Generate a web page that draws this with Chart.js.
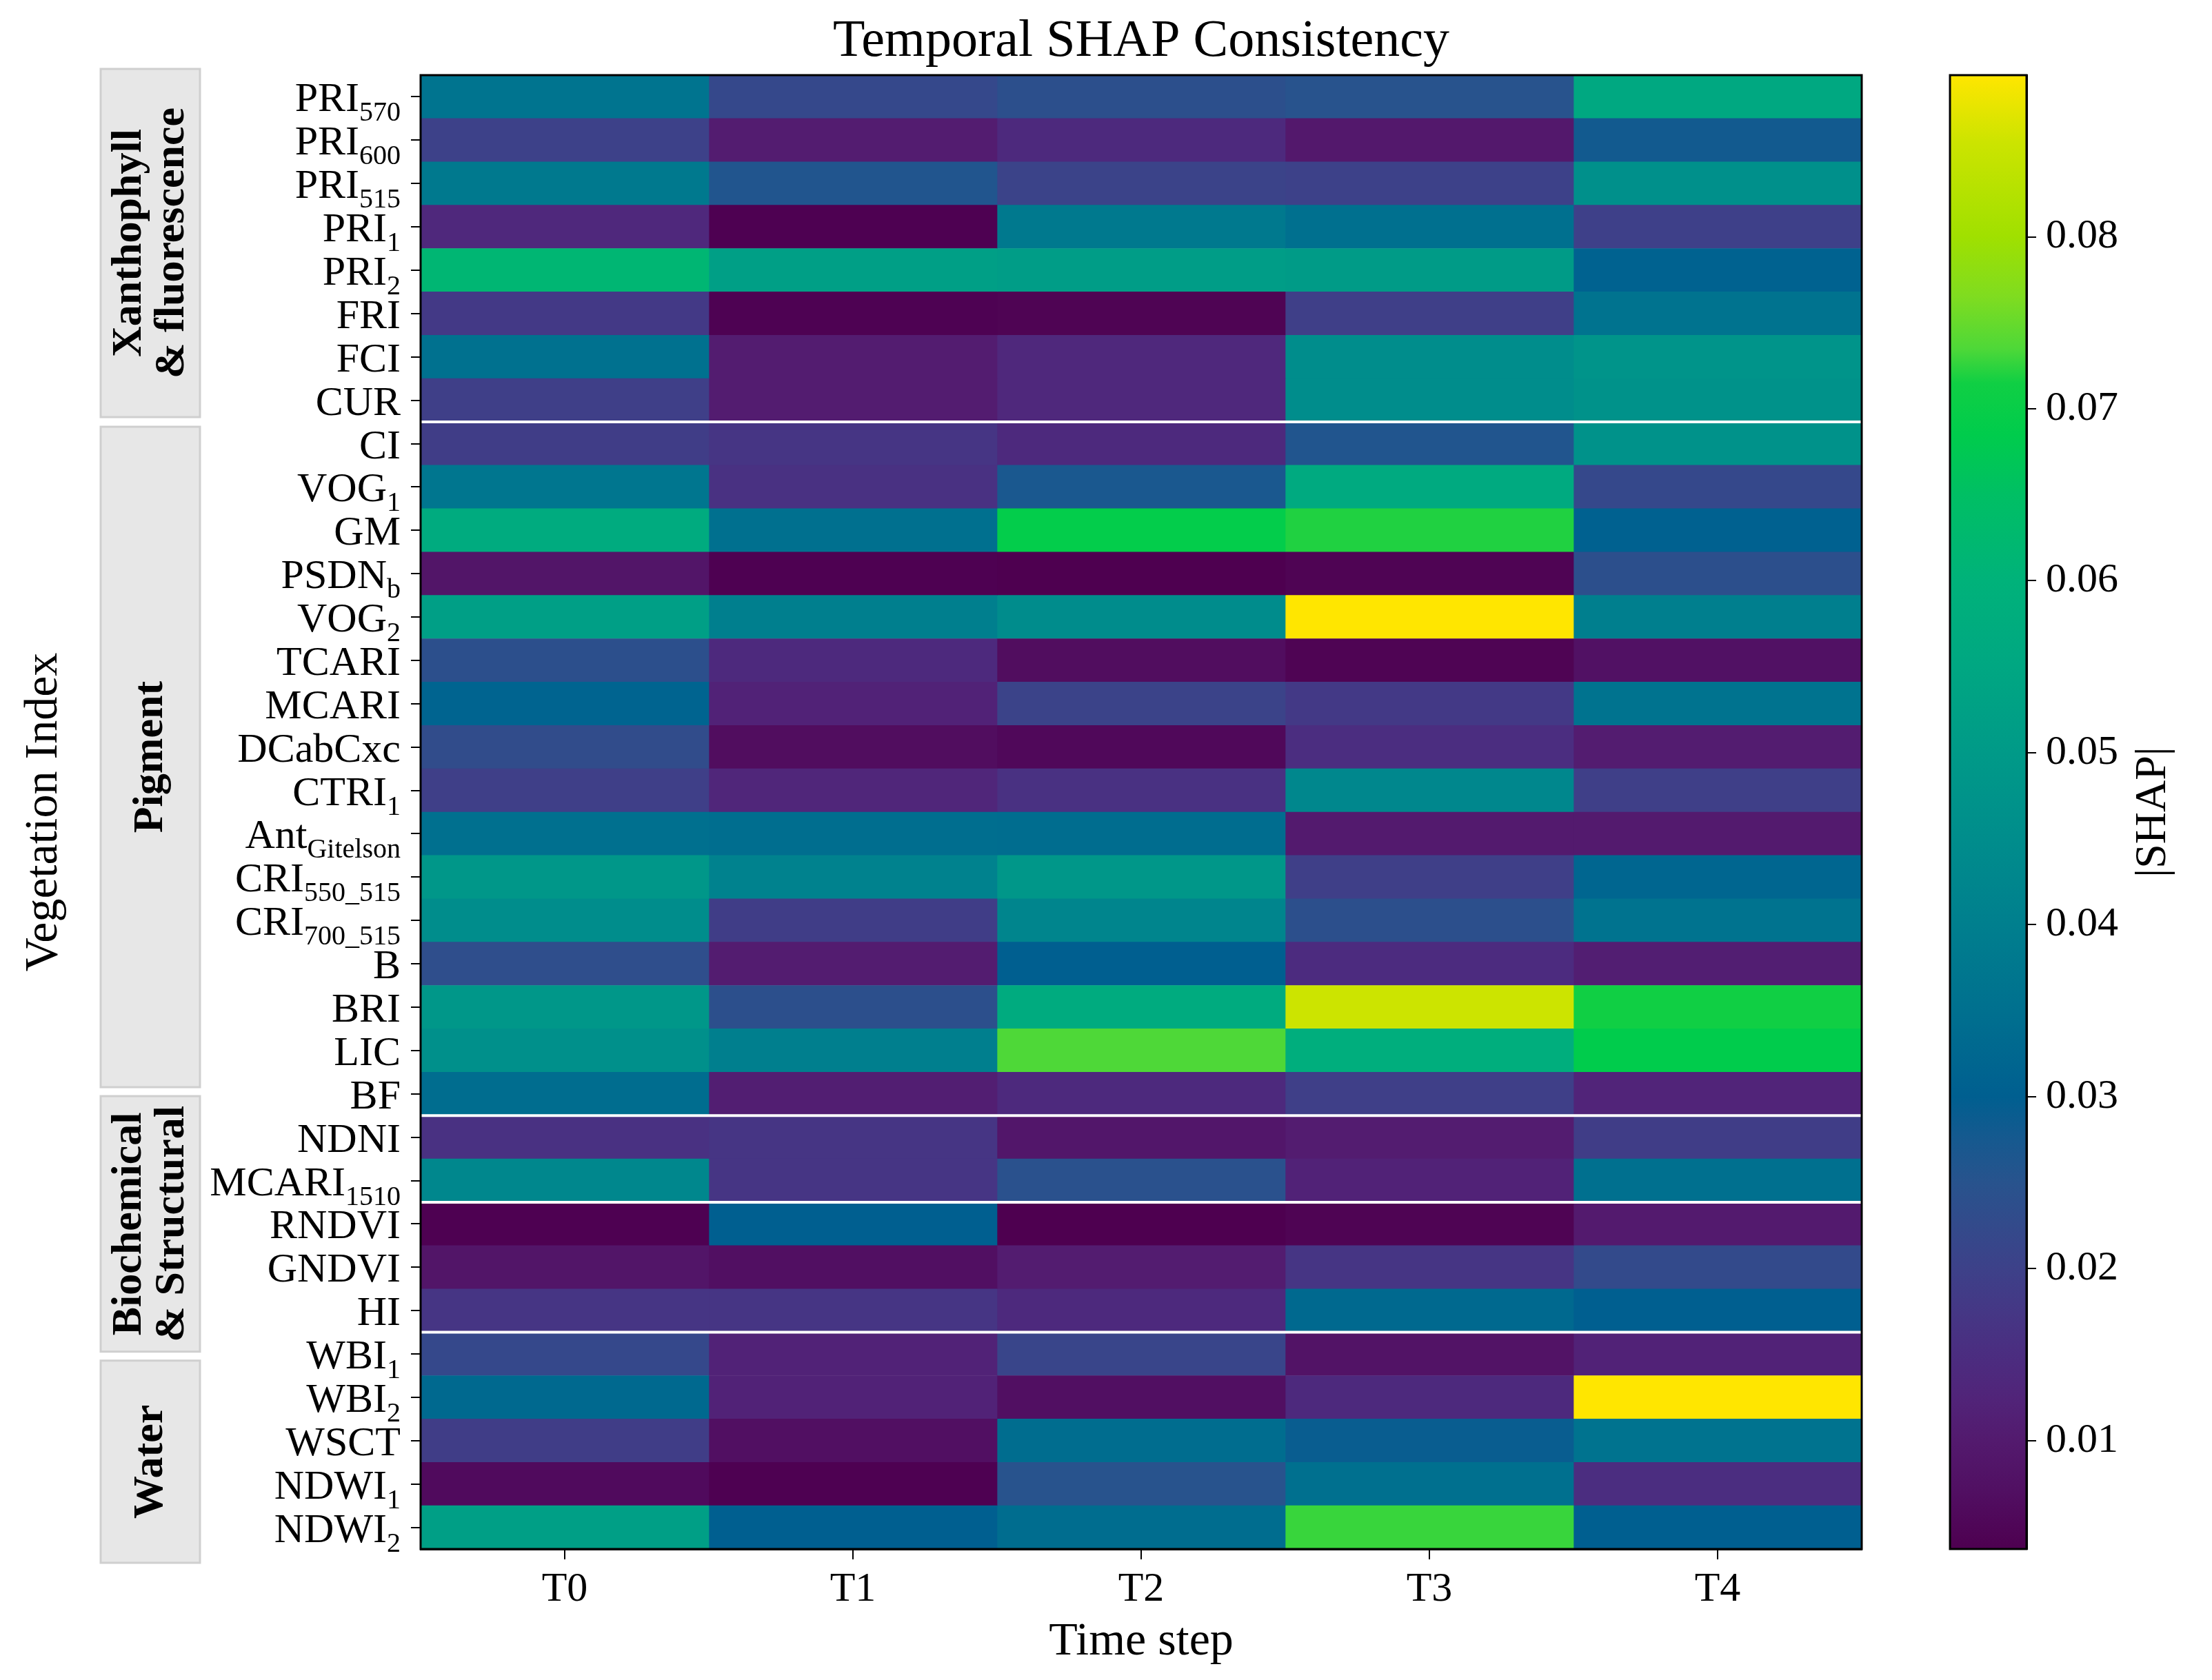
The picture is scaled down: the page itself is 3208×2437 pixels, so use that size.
<!DOCTYPE html>
<html>
<head>
<meta charset="utf-8">
<title>Temporal SHAP Consistency</title>
<script src="https://cdn.jsdelivr.net/npm/chart.js@4.4.1/dist/chart.umd.min.js"></script>
<style>
  html, body { margin: 0; padding: 0; background: #fff; }
  #wrap { position: relative; width: 3208px; height: 2437px; }
  #heat { position: absolute; left: 0; top: 0; }
  #cbar { position: absolute; left: 2760px; top: 0; }
</style>
</head>
<body>
<div id="wrap">
  <canvas id="heat" width="3208" height="2437"></canvas>
  <canvas id="cbar" width="448" height="2437"></canvas>
</div>
<script>
const SERIF = "'Liberation Serif', 'Times New Roman', serif";

// categories
const timeSteps = ['T0', 'T1', 'T2', 'T3', 'T4'];
const rowMain = ['PRI','PRI','PRI','PRI','PRI','FRI','FCI','CUR',
  'CI','VOG','GM','PSDN','VOG','TCARI','MCARI','DCabCxc','CTRI','Ant','CRI','CRI','B','BRI','LIC','BF',
  'NDNI','MCARI','RNDVI','GNDVI','HI',
  'WBI','WBI','WSCT','NDWI','NDWI'];
const rowSub = ['570','600','515','1','2','','','',
  '','1','','b','2','','','','1','Gitelson','550_515','700_515','','','','',
  '','1510','','','',
  '1','2','','1','2'];

// |SHAP| per time step (one value per row, top to bottom)
const t0 = [0.0365,0.020,0.038,0.0135,0.0615,0.018,0.0355,0.0195,0.019,0.037,0.057,0.0085,0.052,0.024,0.0315,0.023,0.0195,0.035,0.049,0.045,0.0235,0.049,0.046,0.034,0.016,0.043,0.0040,0.0085,0.017,0.022,0.033,0.019,0.006,0.052];
const t1 = [0.022,0.0105,0.026,0.0040,0.052,0.0042,0.0105,0.0105,0.017,0.016,0.035,0.0040,0.040,0.014,0.012,0.0065,0.013,0.0345,0.041,0.019,0.0105,0.024,0.040,0.011,0.017,0.017,0.030,0.007,0.017,0.012,0.012,0.007,0.0040,0.030];
const t2 = [0.024,0.014,0.0205,0.038,0.051,0.0045,0.0135,0.0135,0.014,0.027,0.069,0.0037,0.0445,0.0065,0.0205,0.0055,0.016,0.034,0.049,0.042,0.030,0.057,0.0735,0.014,0.009,0.0245,0.0037,0.0105,0.014,0.021,0.007,0.034,0.025,0.034];
const t3 = [0.025,0.0095,0.020,0.035,0.0505,0.0195,0.045,0.045,0.026,0.0565,0.072,0.0045,0.0894,0.0045,0.018,0.015,0.043,0.010,0.0195,0.024,0.0145,0.0855,0.058,0.0195,0.0105,0.012,0.0045,0.017,0.033,0.008,0.014,0.029,0.035,0.0728];
const t4 = [0.0555,0.028,0.046,0.0197,0.031,0.036,0.0475,0.047,0.047,0.022,0.0305,0.024,0.040,0.0075,0.036,0.0105,0.0195,0.010,0.032,0.036,0.011,0.0715,0.0685,0.0125,0.019,0.035,0.010,0.0225,0.030,0.012,0.0894,0.036,0.015,0.030];
const columns = [t0, t1, t2, t3, t4];

// colour scale range and ticks
const shapMin = 0.0037, shapMax = 0.0894;
const cbTicks = [0.01, 0.02, 0.03, 0.04, 0.05, 0.06, 0.07, 0.08];

// row groups
const groupLines = [['Xanthophyll', '& fluorescence'], ['Pigment'], ['Biochemical', '& Structural'], ['Water']];
const groupSize = [8, 16, 5, 5];
const separators = [8, 24, 26, 29];

// colormap
const CMAP = [
  [0.0037, '#4e0050'], [0.007, '#510f62'], [0.010, '#531a6e'], [0.0125, '#512479'],
  [0.015, '#4b2d80'], [0.0175, '#453785'], [0.020, '#3d4189'], [0.0225, '#334a8b'],
  [0.025, '#28538d'], [0.0275, '#16598f'], [0.030, '#005f90'], [0.035, '#00708f'],
  [0.040, '#007f8e'], [0.045, '#008d8c'], [0.050, '#009a88'], [0.055, '#00a782'],
  [0.060, '#00b27a'], [0.065, '#00bf64'], [0.0685, '#00cc4c'], [0.0715, '#10cf44'],
  [0.0735, '#4ed838'], [0.0765, '#7fdc20'], [0.080, '#a0e000'], [0.0855, '#cce400'],
  [0.0894, '#ffe600']
];

function hexToRgb(h) {
  const n = parseInt(h.slice(1), 16);
  return [n >> 16 & 255, n >> 8 & 255, n & 255];
}
function colorFor(v) {
  if (v <= CMAP[0][0]) return CMAP[0][1];
  for (let i = 1; i < CMAP.length; i++) {
    if (v <= CMAP[i][0]) {
      const [v0, c0] = CMAP[i - 1], [v1, c1] = CMAP[i];
      const t = (v - v0) / (v1 - v0);
      const a = hexToRgb(c0), b = hexToRgb(c1);
      return 'rgb(' + a.map((x, k) => Math.round(x + (b[k] - x) * t)).join(',') + ')';
    }
  }
  return CMAP[CMAP.length - 1][1];
}

const rowKeys = rowMain.map((m, i) => m + rowSub[i]);

// boundary between row k-1 and k, in pixels
const edge = (ys, k) => ys.getPixelForValue(k - 0.5);

const GROUP_FONT = 'bold 62px ' + SERIF;

// group boxes follow their rows, but grow to fit their label
function groupBoxes(c, ys) {
  c.font = GROUP_FONT;
  const boxes = [];
  let start = 0;
  groupSize.forEach((n, g) => {
    let top = edge(ys, start) + 7, bot = edge(ys, start + n) - 7;
    if (g === 0) top = edge(ys, 0) - 9;
    if (g === groupSize.length - 1) bot = edge(ys, start + n) + 20;
    const need = Math.max(...groupLines[g].map(t => c.measureText(t).width)) + 28;
    let grown = false;
    if (bot - top < need) {
      const mid = (top + bot) / 2;
      top = mid - need / 2; bot = mid + need / 2; grown = true;
    }
    boxes.push({ top, bot, grown });
    start += n;
  });
  boxes.forEach((b, i) => {
    if (!b.grown) return;
    if (i > 0) boxes[i - 1].bot = Math.min(boxes[i - 1].bot, b.top - 13);
    if (i < boxes.length - 1) boxes[i + 1].top = Math.max(boxes[i + 1].top, b.bot + 13);
  });
  return boxes;
}

const heatDecor = {
  id: 'heatDecor',
  beforeDraw(chart) {
    const c = chart.ctx, ys = chart.scales.y, area = chart.chartArea;
    c.save();
    groupBoxes(c, ys).forEach((b, g) => {
      c.fillStyle = '#e7e7e7';
      c.strokeStyle = '#cfcfcf';
      c.lineWidth = 3;
      c.fillRect(146, b.top, 144, b.bot - b.top);
      c.strokeRect(146, b.top, 144, b.bot - b.top);
      c.save();
      c.translate(219, (b.top + b.bot) / 2);
      c.rotate(-Math.PI / 2);
      c.fillStyle = '#000';
      c.font = GROUP_FONT;
      c.textAlign = 'center';
      c.textBaseline = 'middle';
      const lines = groupLines[g];
      lines.forEach((txt, i) => c.fillText(txt, 0, (i - (lines.length - 1) / 2) * 62));
      c.restore();
    });
    // y title
    c.save();
    c.translate(64, (area.top + area.bottom) / 2);
    c.rotate(-Math.PI / 2);
    c.fillStyle = '#000';
    c.font = '68px ' + SERIF;
    c.textAlign = 'center';
    c.textBaseline = 'middle';
    c.fillText('Vegetation Index', 0, 0);
    c.restore();
    // chart title
    c.fillStyle = '#000';
    c.font = '76px ' + SERIF;
    c.textAlign = 'center';
    c.textBaseline = 'middle';
    c.fillText('Temporal SHAP Consistency', (area.left + area.right) / 2, 61);
    c.restore();
  },
  afterDatasetsDraw(chart) {
    const c = chart.ctx, ys = chart.scales.y, a = chart.chartArea;
    c.save();
    c.strokeStyle = '#ffffff';
    c.lineWidth = 4;
    separators.forEach(k => {
      const y = edge(ys, k);
      c.beginPath(); c.moveTo(a.left, y); c.lineTo(a.right, y); c.stroke();
    });
    c.strokeStyle = '#000';
    c.lineWidth = 3;
    c.strokeRect(a.left, a.top, a.right - a.left, a.bottom - a.top);
    c.restore();
  },
  afterDraw(chart) {
    // row labels with subscripts
    const c = chart.ctx, ys = chart.scales.y;
    const right = 581;
    c.save();
    c.fillStyle = '#000';
    c.textBaseline = 'alphabetic';
    c.textAlign = 'left';
    rowMain.forEach((m, i) => {
      const y = ys.getPixelForValue(i);
      c.font = '40px ' + SERIF;
      const ws = rowSub[i] ? c.measureText(rowSub[i]).width : 0;
      if (rowSub[i]) c.fillText(rowSub[i], right - ws, y + 35);
      c.font = '60px ' + SERIF;
      const wm = c.measureText(m).width;
      c.fillText(m, right - ws - wm, y + 21);
    });
    c.restore();
  }
};

new Chart(document.getElementById('heat'), {
  type: 'bar',
  data: {
    labels: rowKeys,
    datasets: columns.map((col, ci) => ({
      label: timeSteps[ci],
      data: col.map(() => 1),
      backgroundColor: col.map(colorFor),
      borderWidth: 0,
      barPercentage: 1,
      categoryPercentage: 1
    }))
  },
  options: {
    indexAxis: 'y',
    responsive: false,
    animation: false,
    devicePixelRatio: 1,
    layout: { padding: { left: 0, top: 109, right: 508, bottom: 0 } },
    plugins: { legend: { display: false }, tooltip: { enabled: false } },
    scales: {
      x: {
        type: 'linear', stacked: true, min: 0, max: timeSteps.length,
        afterBuildTicks: s => { s.ticks = timeSteps.map((_, i) => ({ value: i + 0.5 })); },
        ticks: {
          callback: v => timeSteps[Math.floor(v)],
          font: { family: SERIF, size: 60 }, color: '#000', padding: 8, maxRotation: 0
        },
        grid: { drawOnChartArea: false, drawTicks: true, tickLength: 15, color: '#000', lineWidth: 2 },
        border: { display: true, color: '#000', width: 3 },
        title: { display: true, text: 'Time step', font: { family: SERIF, size: 68 }, color: '#000', padding: { top: 0, bottom: 14 } },
        afterFit: s => { s.height = 190; }
      },
      y: {
        type: 'category', stacked: true, offset: true,
        ticks: { callback: () => '', autoSkip: false },
        grid: { drawOnChartArea: false, drawTicks: true, tickLength: 14, color: '#000', lineWidth: 2, offset: false },
        border: { display: true, color: '#000', width: 3 },
        afterFit: s => { s.width = 610; }
      }
    }
  },
  plugins: [heatDecor]
});

// colour bar
const cbDecor = {
  id: 'cbDecor',
  afterDatasetsDraw(chart) {
    const c = chart.ctx, a = chart.chartArea;
    c.save();
    c.strokeStyle = '#000';
    c.lineWidth = 3;
    c.strokeRect(a.left, a.top, a.right - a.left, a.bottom - a.top);
    c.translate(363, (a.top + a.bottom) / 2);
    c.rotate(-Math.PI / 2);
    c.fillStyle = '#000';
    c.font = '64px ' + SERIF;
    c.textAlign = 'center';
    c.textBaseline = 'middle';
    c.fillText('|SHAP|', 0, 0);
    c.restore();
  }
};

new Chart(document.getElementById('cbar'), {
  type: 'bar',
  data: {
    labels: ['|SHAP|'],
    datasets: [{
      data: [[shapMin, shapMax]],
      backgroundColor: ctx => {
        const ch = ctx.chart;
        if (!ch.chartArea) return '#000';
        const ys = ch.scales.y;
        const g = ch.ctx.createLinearGradient(0, ys.getPixelForValue(shapMin), 0, ys.getPixelForValue(shapMax));
        CMAP.forEach(([v, col]) => g.addColorStop(Math.min(1, Math.max(0, (v - shapMin) / (shapMax - shapMin))), col));
        return g;
      },
      borderWidth: 0,
      barPercentage: 1,
      categoryPercentage: 1
    }]
  },
  options: {
    responsive: false,
    animation: false,
    devicePixelRatio: 1,
    layout: { padding: { left: 68, top: 109, right: 0, bottom: 190 } },
    plugins: { legend: { display: false }, tooltip: { enabled: false } },
    scales: {
      x: { display: false },
      y: {
        position: 'right', min: shapMin, max: shapMax,
        afterBuildTicks: s => { s.ticks = cbTicks.map(v => ({ value: v })); },
        ticks: { callback: v => v.toFixed(2), font: { family: SERIF, size: 60 }, color: '#000', padding: 14 },
        grid: { drawOnChartArea: false, drawTicks: true, tickLength: 14, color: '#000', lineWidth: 2 },
        border: { display: true, color: '#000', width: 3 },
        afterFit: s => { s.width = 269; }
      }
    }
  },
  plugins: [cbDecor]
});
</script>
</body>
</html>
